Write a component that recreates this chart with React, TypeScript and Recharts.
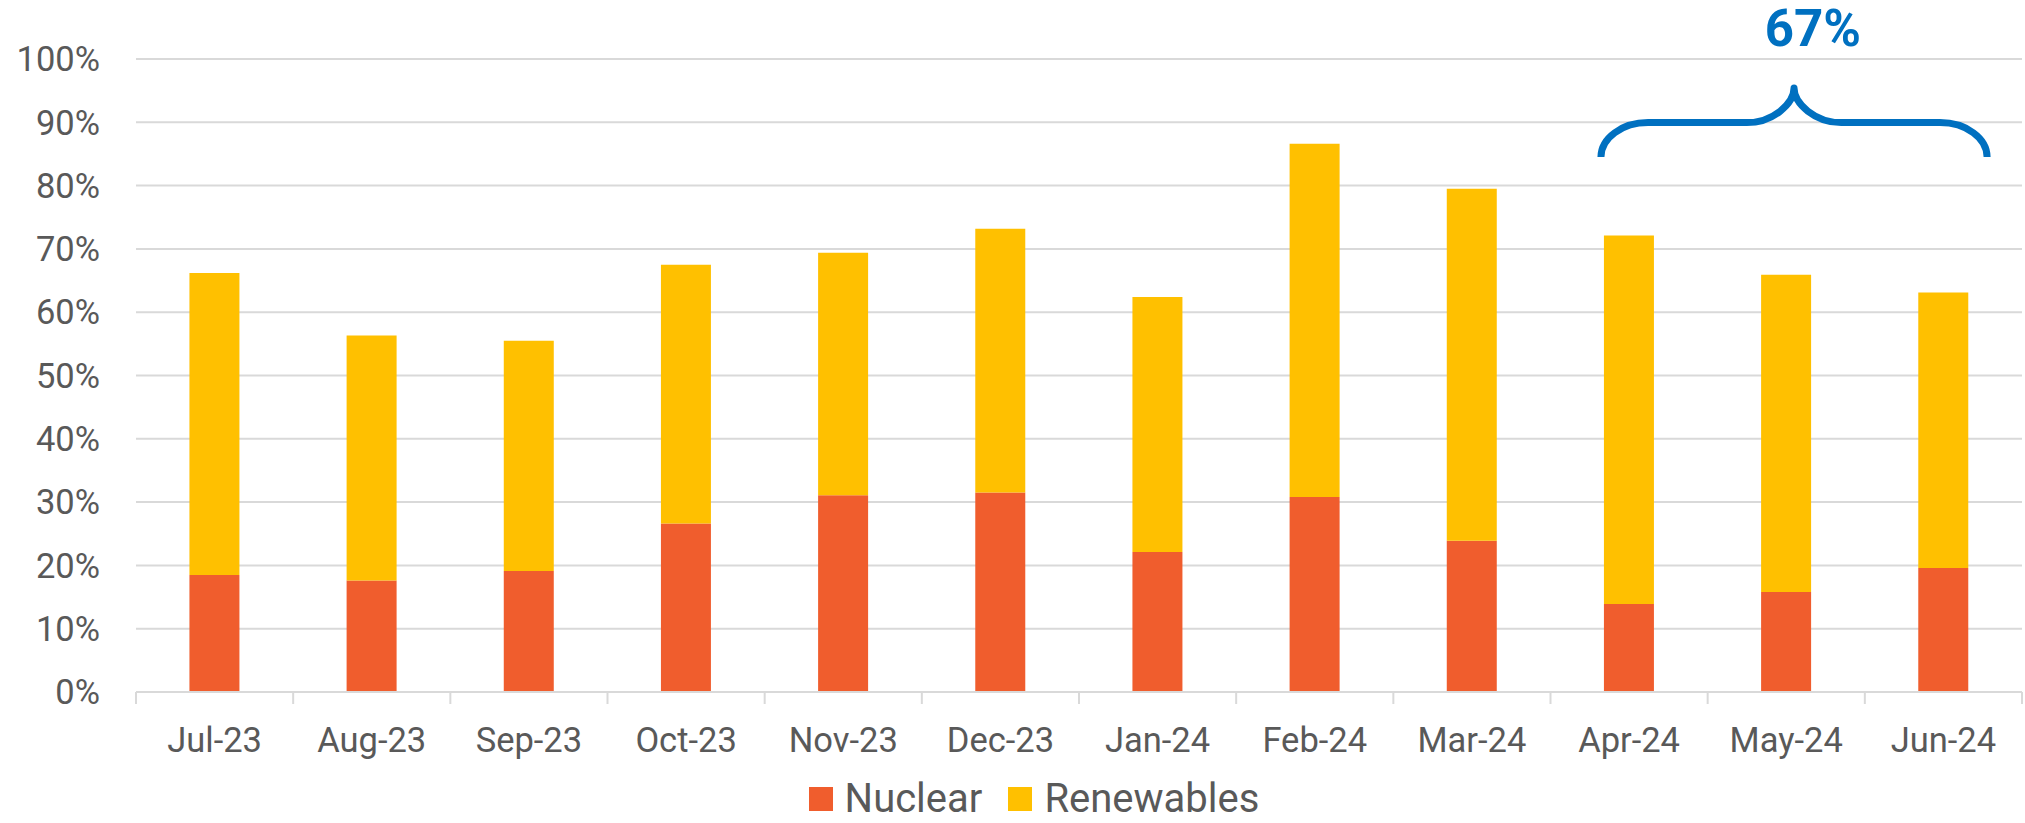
import React from "react";
import {
  BarChart,
  Bar,
  XAxis,
  YAxis,
  CartesianGrid,
  Legend,
  ReferenceArea,
} from "recharts";

const months = [
  "Jul-23", "Aug-23", "Sep-23", "Oct-23", "Nov-23", "Dec-23",
  "Jan-24", "Feb-24", "Mar-24", "Apr-24", "May-24", "Jun-24",
];
const nuclear = [18.5, 17.6, 19.1, 26.6, 31.1, 31.5, 22.1, 30.8, 23.9, 13.9, 15.8, 19.6];
const renewables = [47.7, 38.7, 36.4, 40.9, 38.3, 41.7, 40.3, 55.8, 55.6, 58.2, 50.1, 43.5];
const yTicks = [0, 10, 20, 30, 40, 50, 60, 70, 80, 90, 100];

// bracket over the last quarter
const braceFrom = "Apr-24";
const braceTo = "Jun-24";
const braceLow = 84.5;
const braceHigh = 95.4;

const W = 2025;
const H = 823;
const M = { top: 59, right: 3, bottom: 0, left: 0 };
const Y_W = 136;
const FONT = "Roboto, 'Liberation Sans', Arial, sans-serif";
const TEXT = "#595959";
const GRID = "#d9d9d9";
const ORANGE = "#F05D2D";
const YELLOW = "#FFC000";
const BLUE = "#0070C0";

const data = months.map((m, i) => ({
  month: m,
  nuclear: nuclear[i],
  renewables: renewables[i],
}));

const i0 = months.indexOf(braceFrom);
const i1 = months.indexOf(braceTo);
const sel = data.slice(i0, i1 + 1);
const avgShare = Math.round(
  sel.reduce((s, d) => s + d.nuclear + d.renewables, 0) / sel.length
);

const halfBand = (W - M.left - M.right - Y_W) / months.length / 2;

function MonthTick(props: any) {
  const { x, y, payload, index } = props;
  const h = payload && payload.offset ? payload.offset : halfBand;
  return (
    <g>
      <line x1={x - h} x2={x - h} y1={y} y2={y + 12} stroke={GRID} strokeWidth={2} />
      {index === months.length - 1 && (
        <line x1={x + h} x2={x + h} y1={y} y2={y + 12} stroke={GRID} strokeWidth={2} />
      )}
      <text
        x={x}
        y={y + 60}
        textAnchor="middle"
        fill={TEXT}
        fontSize={34.5}
        fontFamily={FONT}
      >
        {payload.value}
      </text>
    </g>
  );
}

function Brace(props: any) {
  const { x, y, width, height } = props;
  const L = x + width * 0.107;
  const R = x + width - width * 0.074;
  const cx = (L + R) / 2;
  const yt = y;
  const yb = y + height;
  const ym = (yt + yb) / 2;
  const rx = width * 0.1;
  const k = 0.552;
  const d = [
    `M ${L} ${yb}`,
    `C ${L} ${yb - k * (yb - ym)} ${L + rx - k * rx} ${ym} ${L + rx} ${ym}`,
    `L ${cx - rx} ${ym}`,
    `C ${cx - rx + k * rx} ${ym} ${cx} ${ym - k * (ym - yt)} ${cx} ${yt}`,
    `C ${cx} ${ym - k * (ym - yt)} ${cx + rx - k * rx} ${ym} ${cx + rx} ${ym}`,
    `L ${R - rx} ${ym}`,
    `C ${R - rx + k * rx} ${ym} ${R} ${yb - k * (yb - ym)} ${R} ${yb}`,
  ].join(" ");
  return (
    <g>
      <path d={d} fill="none" stroke={BLUE} strokeWidth={7} strokeLinejoin="round" />
      <text
        x={cx + width * 0.04}
        y={yt - 42}
        textAnchor="middle"
        fill={BLUE}
        fontSize={51}
        fontWeight="bold"
        fontFamily={FONT}
      >
        {avgShare}%
      </text>
    </g>
  );
}

function LegendBox() {
  const items = [
    { name: "Nuclear", color: ORANGE },
    { name: "Renewables", color: YELLOW },
  ];
  return (
    <div
      style={{
        height: 64,
        paddingTop: 20,
        paddingBottom: 4,
        paddingLeft: 46,
        boxSizing: "border-box",
        display: "flex",
        justifyContent: "center",
        alignItems: "center",
        fontFamily: FONT,
        fontSize: 40,
        lineHeight: 1,
        color: TEXT,
      }}
    >
      {items.map((it, i) => (
        <div
          key={it.name}
          style={{ display: "flex", alignItems: "center", marginLeft: i ? 26 : 0 }}
        >
          <span
            style={{ width: 24, height: 24, background: it.color, marginRight: 12 }}
          />
          <span>{it.name}</span>
        </div>
      ))}
    </div>
  );
}

export default function App() {
  return (
    <div style={{ position: "absolute", left: 0, top: 0, background: "#fff" }}>
      <BarChart width={W} height={H} data={data} margin={M} barCategoryGap="34%">
        <CartesianGrid vertical={false} stroke={GRID} strokeWidth={2} />
        <XAxis
          dataKey="month"
          height={67}
          axisLine={{ stroke: GRID, strokeWidth: 2 }}
          tickLine={false}
          tickSize={0}
          tickMargin={0}
          interval={0}
          tick={<MonthTick />}
        />
        <YAxis
          width={Y_W}
          domain={[0, 100]}
          ticks={yTicks}
          tickFormatter={(v) => `${v}%`}
          axisLine={false}
          tickLine={false}
          tickSize={0}
          tickMargin={36}
          tick={{ fill: TEXT, fontSize: 34.5, fontFamily: FONT }}
        />
        <Legend verticalAlign="bottom" content={() => <LegendBox />} />
        <Bar dataKey="nuclear" name="Nuclear" stackId="a" fill={ORANGE} isAnimationActive={false} />
        <Bar dataKey="renewables" name="Renewables" stackId="a" fill={YELLOW} isAnimationActive={false} />
        <ReferenceArea
          x1={braceFrom}
          x2={braceTo}
          y1={braceLow}
          y2={braceHigh}
          ifOverflow="visible"
          shape={(p: any) => <Brace {...p} />}
        />
      </BarChart>
    </div>
  );
}
